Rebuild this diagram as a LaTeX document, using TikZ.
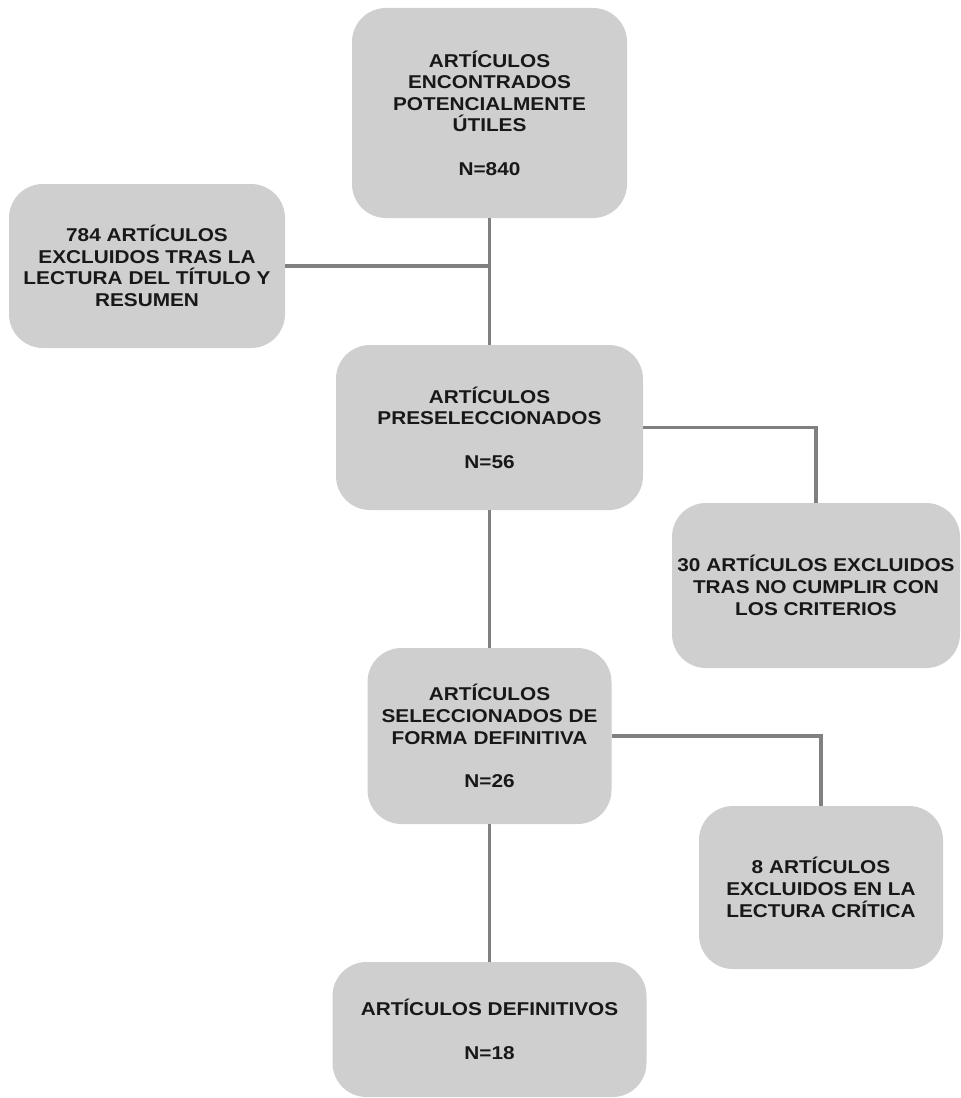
\documentclass[tikz,border=0pt]{standalone}
\usepackage{fontspec}
\setmainfont{Liberation Sans}[FakeStretch=1.12]
\usepackage{xcolor}
\usepackage{tikz}
\definecolor{boxfill}{RGB}{207,207,207}
\definecolor{linkgray}{RGB}{128,128,128}
\definecolor{boxtext}{RGB}{24,24,24}

\begin{document}
\begin{tikzpicture}[
  font=\fontsize{13.2pt}{15.4pt}\selectfont\bfseries,
  stage/.style={fill=boxfill, rounded corners=0.85cm, align=center, text=boxtext, inner sep=2pt},
  link/.style={draw=linkgray, line width=2.4pt}
]
\useasboundingbox (0,0) rectangle (24.025,-27.45);

\node[stage, minimum width=6.875cm, minimum height=5.25cm] (encontrados) at (12.2375,-2.825)
{ARTÍCULOS\\ENCONTRADOS\\POTENCIALMENTE\\ÚTILES\\[15.4pt]N=840};
\node[stage, minimum width=6.9cm, minimum height=4.1cm] (excl1) at (3.675,-6.65)
{784 ARTÍCULOS\\EXCLUIDOS TRAS LA\\LECTURA DEL TÍTULO Y\\RESUMEN};
\node[stage, minimum width=7.675cm, minimum height=4.125cm] (presel) at (12.2375,-10.6875)
{ARTÍCULOS\\PRESELECCIONADOS\\[15.4pt]N=56};
\node[stage, minimum width=7.2cm, minimum height=4.125cm] (excl2) at (20.4,-14.6375)
{30 ARTÍCULOS EXCLUIDOS\\TRAS NO CUMPLIR CON\\LOS CRITERIOS};
\node[stage, minimum width=6.1cm, minimum height=4.4cm] (selec) at (12.2375,-18.4)
{ARTÍCULOS\\SELECCIONADOS DE\\FORMA DEFINITIVA\\[15.4pt]N=26};
\node[stage, minimum width=6.1cm, minimum height=4.075cm] (excl3) at (20.525,-22.1875)
{8 ARTÍCULOS\\EXCLUIDOS EN LA\\LECTURA CRÍTICA};
\node[stage, minimum width=7.85cm, minimum height=3.375cm] (defin) at (12.2375,-25.7375)
{ARTÍCULOS DEFINITIVOS\\[15.4pt]N=18};

\draw[link] (encontrados.south) -- (presel.north);
\draw[link] (excl1.east) -- (excl1.east -| encontrados.south);
\draw[link] (presel.east) -| (excl2.north);
\draw[link] (presel.south) -- (selec.north);
\draw[link] (selec.east) -| (excl3.north);
\draw[link] (selec.south) -- (defin.north);
\end{tikzpicture}
\end{document}
